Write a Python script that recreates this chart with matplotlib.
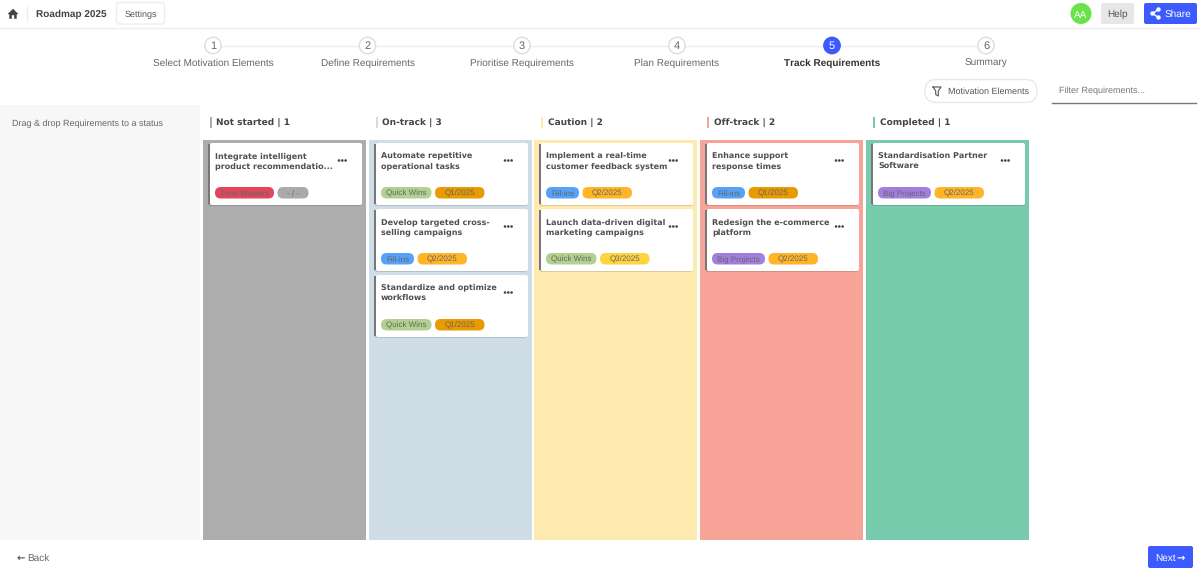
import matplotlib

matplotlib.use("Agg")

import matplotlib.pyplot as plt
from matplotlib.patches import Circle, FancyBboxPatch, Polygon, Rectangle

# Closer to browser text spacing
plt.rcParams["text.hinting"] = "no_hinting"
plt.rcParams["text.hinting_factor"] = 1

# Wizard steps
step_labels = ["Select Motivation Elements", "Define Requirements", "Prioritise Requirements",
               "Plan Requirements", "Track Requirements", "Summary"]
active_step = 4

# Board columns
statuses = ["Not started", "On-track", "Caution", "Off-track", "Completed"]
status_counts = [1, 3, 2, 2, 1]
status_colors = ["#adadad", "#cfdee6", "#fee9ae", "#f8a397", "#76cbac"]

# Cards per column: title lines and tags
card_titles = [
    [["Integrate intelligent", "product recommendatio..."]],
    [["Automate repetitive", "operational tasks"],
     ["Develop targeted cross-", "selling campaigns"],
     ["Standardize and optimize", "workflows"]],
    [["Implement a real-time", "customer feedback system"],
     ["Launch data-driven digital", "marketing campaigns"]],
    [["Enhance support", "response times"],
     ["Redesign the e-commerce", "platform"]],
    [["Standardisation Partner", "Software"]],
]
card_tags = [
    [["Time Wasters", "- / -"]],
    [["Quick Wins", "Q1/2025"], ["Fill-ins", "Q2/2025"], ["Quick Wins", "Q1/2025"]],
    [["Fill-ins", "Q2/2025"], ["Quick Wins", "Q3/2025"]],
    [["Fill-ins", "Q1/2025"], ["Big Projects", "Q2/2025"]],
    [["Big Projects", "Q2/2025"]],
]

# Tag styles: colour, width in pixels
TAG_STYLES = {
    "Time Wasters": ("#e2465c", 59),
    "- / -": ("#aaaaaa", 31),
    "Quick Wins": ("#b2d08f", 50.5),
    "Fill-ins": ("#56a2f8", 33),
    "Big Projects": ("#a27fdf", 53),
    "Q1/2025": ("#e99a00", 49.5),
    "Q2/2025": ("#ffb525", 49.5),
    "Q3/2025": ("#ffd43f", 49.5),
}

BLUE = "#3d5afe"
TEXT = "#555555"
DARK = "#444444"
SANS = "Liberation Sans"

fig = plt.figure(figsize=(12, 5.74), dpi=100)
ax = fig.add_axes([0, 0, 1, 1])
ax.set_xlim(0, 1200)
ax.set_ylim(574, 0)
ax.axis("off")


def box(x, y, w, h, color, r=2, edge="none", lw=0, z=2):
    ax.add_patch(FancyBboxPatch((x + r, y + r), w - 2 * r, h - 2 * r,
                                boxstyle=f"round,pad={r},rounding_size={r}",
                                fc=color, ec=edge, lw=lw, zorder=z))


# y is the middle of the x-height line, baseline keeps rows level
def label(x, y, s, size=7.0, color=TEXT, ha="left", weight="normal", family=SANS, z=6):
    ax.text(x, y + size * 0.5, s, fontsize=size, color=color, ha=ha, va="baseline",
            fontweight=weight, family=family, zorder=z)


# Top bar
ax.plot([0, 1200], [27.5, 27.5], color="#eeeeee", lw=1, zorder=1)
ax.plot([26.5, 26.5], [7, 21], color="#eeeeee", lw=1, zorder=1)
ax.add_patch(Polygon([(8, 14), (13, 9), (18, 14), (16.5, 14), (16.5, 18.5), (14.3, 18.5), (14.3, 15),
                      (11.7, 15), (11.7, 18.5), (9.5, 18.5), (9.5, 14)], fc=DARK, ec=DARK, lw=0.3))
label(36, 13.5, "Roadmap 2025", size=6.95, color=DARK, weight="bold")
box(116.5, 2.5, 48, 21.5, "white", r=3, edge="#eeeeee", lw=1)
label(140.5, 14, "Settings", size=6.8, ha="center")

ax.add_patch(Circle((1081, 13.5), 10.5, fc="#69e34a", ec="none"))
label(1081, 14, "AA", size=7.0, color="white", ha="center")
box(1101, 3, 33, 21, "#e7e7e7", r=2)
label(1117.5, 13.7, "Help", size=7.0, ha="center")
box(1144, 3, 53, 21, BLUE, r=2)
share_pts = [(1152.5, 13.5), (1158.5, 9.5), (1158.5, 17.5)]
for px, py in share_pts[1:]:
    ax.plot([share_pts[0][0], px], [share_pts[0][1], py], color="white", lw=1, zorder=5)
for px, py in share_pts:
    ax.add_patch(Circle((px, py), 2.2, fc="white", ec="none", zorder=5))
label(1164.5, 13.7, "Share", size=7.0, color="white")

# Wizard
step_x = [213, 367.5, 522, 677, 832, 986]
ax.plot([step_x[0], step_x[-1]], [45.5, 45.5], color="#eeeeee", lw=1, zorder=1)
for i, name in enumerate(step_labels):
    on = i == active_step
    ax.add_patch(Circle((step_x[i], 45.5), 8.2, fc=BLUE if on else "white",
                        ec=BLUE if on else "#dddddd", lw=1, zorder=3))
    label(step_x[i], 45.5, str(i + 1), size=7.6, color="white" if on else "#666666", ha="center")
    label(step_x[i], 62.8, name, size=7.0, color="#333333" if on else "#666666",
          ha="center", weight="bold" if on else "normal")

# Filter controls
box(925, 79.5, 112, 23, "white", r=11, edge="#e8e8e8", lw=1)
ax.plot([933, 941, 938.3, 938.3, 935.7, 935.7, 933], [87, 87, 91, 96, 94.5, 91, 87],
        color="#555555", lw=0.8, zorder=5)
label(948, 91, "Motivation Elements", size=6.8)
label(1059, 90, "Filter Requirements...", size=6.8, color="#777777")
ax.plot([1052, 1196], [103, 103], color="#777777", lw=1, zorder=2)

# Left panel
box(0, 105, 200, 435, "#f7f7f7", r=2, z=1)
label(12.5, 122.5, "Drag & drop Requirements to a status", size=6.8, color="#666666")

# Board
col_x = [203, 369, 534, 700, 866]
card_y = [143, 209, 275]
for c, status in enumerate(statuses):
    x = col_x[c]
    ax.add_patch(Rectangle((x, 140), 163, 400, fc=status_colors[c], ec="none", zorder=1))
    ax.add_patch(Rectangle((x + 6.5, 117), 2, 11, fc=status_colors[c], ec="none", zorder=2))
    label(x + 13.5, 123, f"{status} | {status_counts[c]}", size=6.4, color=DARK,
          weight="bold", family="DejaVu Sans")
    for k, lines in enumerate(card_titles[c]):
        y = card_y[k]
        # Card shadow, body and left accent
        box(x + 5, y + 1, 154, 62, "#00000022", r=3, z=2)
        ax.add_patch(Rectangle((x + 5, y + 1), 2.5, 60, fc="#777777", ec="none", zorder=3))
        box(x + 7, y, 152, 62, "white", r=2, z=4)
        label(x + 12, y + 12, lines[0], size=5.55, color="#505050", weight="bold", family="DejaVu Sans")
        label(x + 12, y + 22.5, lines[1], size=5.55, color="#505050", weight="bold", family="DejaVu Sans")
        for dx in (-3.3, 0, 3.3):
            ax.add_patch(Circle((x + 139.3 + dx, y + 17.5), 1.3, fc=DARK, ec="none", zorder=6))
        tag_x = x + 12
        for tag in card_tags[c][k]:
            color, w = TAG_STYLES[tag]
            box(tag_x, y + 44, w, 11.5, color, r=5.7, z=5)
            label(tag_x + w / 2, y + 49.8, tag, size=6.1, color="#666666", ha="center")
            tag_x += w + 3.5

# Footer
label(17, 557.5, "\u2190", size=7.5, color=TEXT, family="DejaVu Sans", weight="bold")
label(27, 557.2, "Back", size=7.0, color="#666666")
box(1148, 546, 45, 22, BLUE, r=2)
label(1155, 557.2, "Next", size=7.0, color="white")
label(1176, 557.5, "\u2192", size=7.5, color="white", family="DejaVu Sans", weight="bold")

fig.savefig("out.png", dpi=100, facecolor="white")
plt.close(fig)
